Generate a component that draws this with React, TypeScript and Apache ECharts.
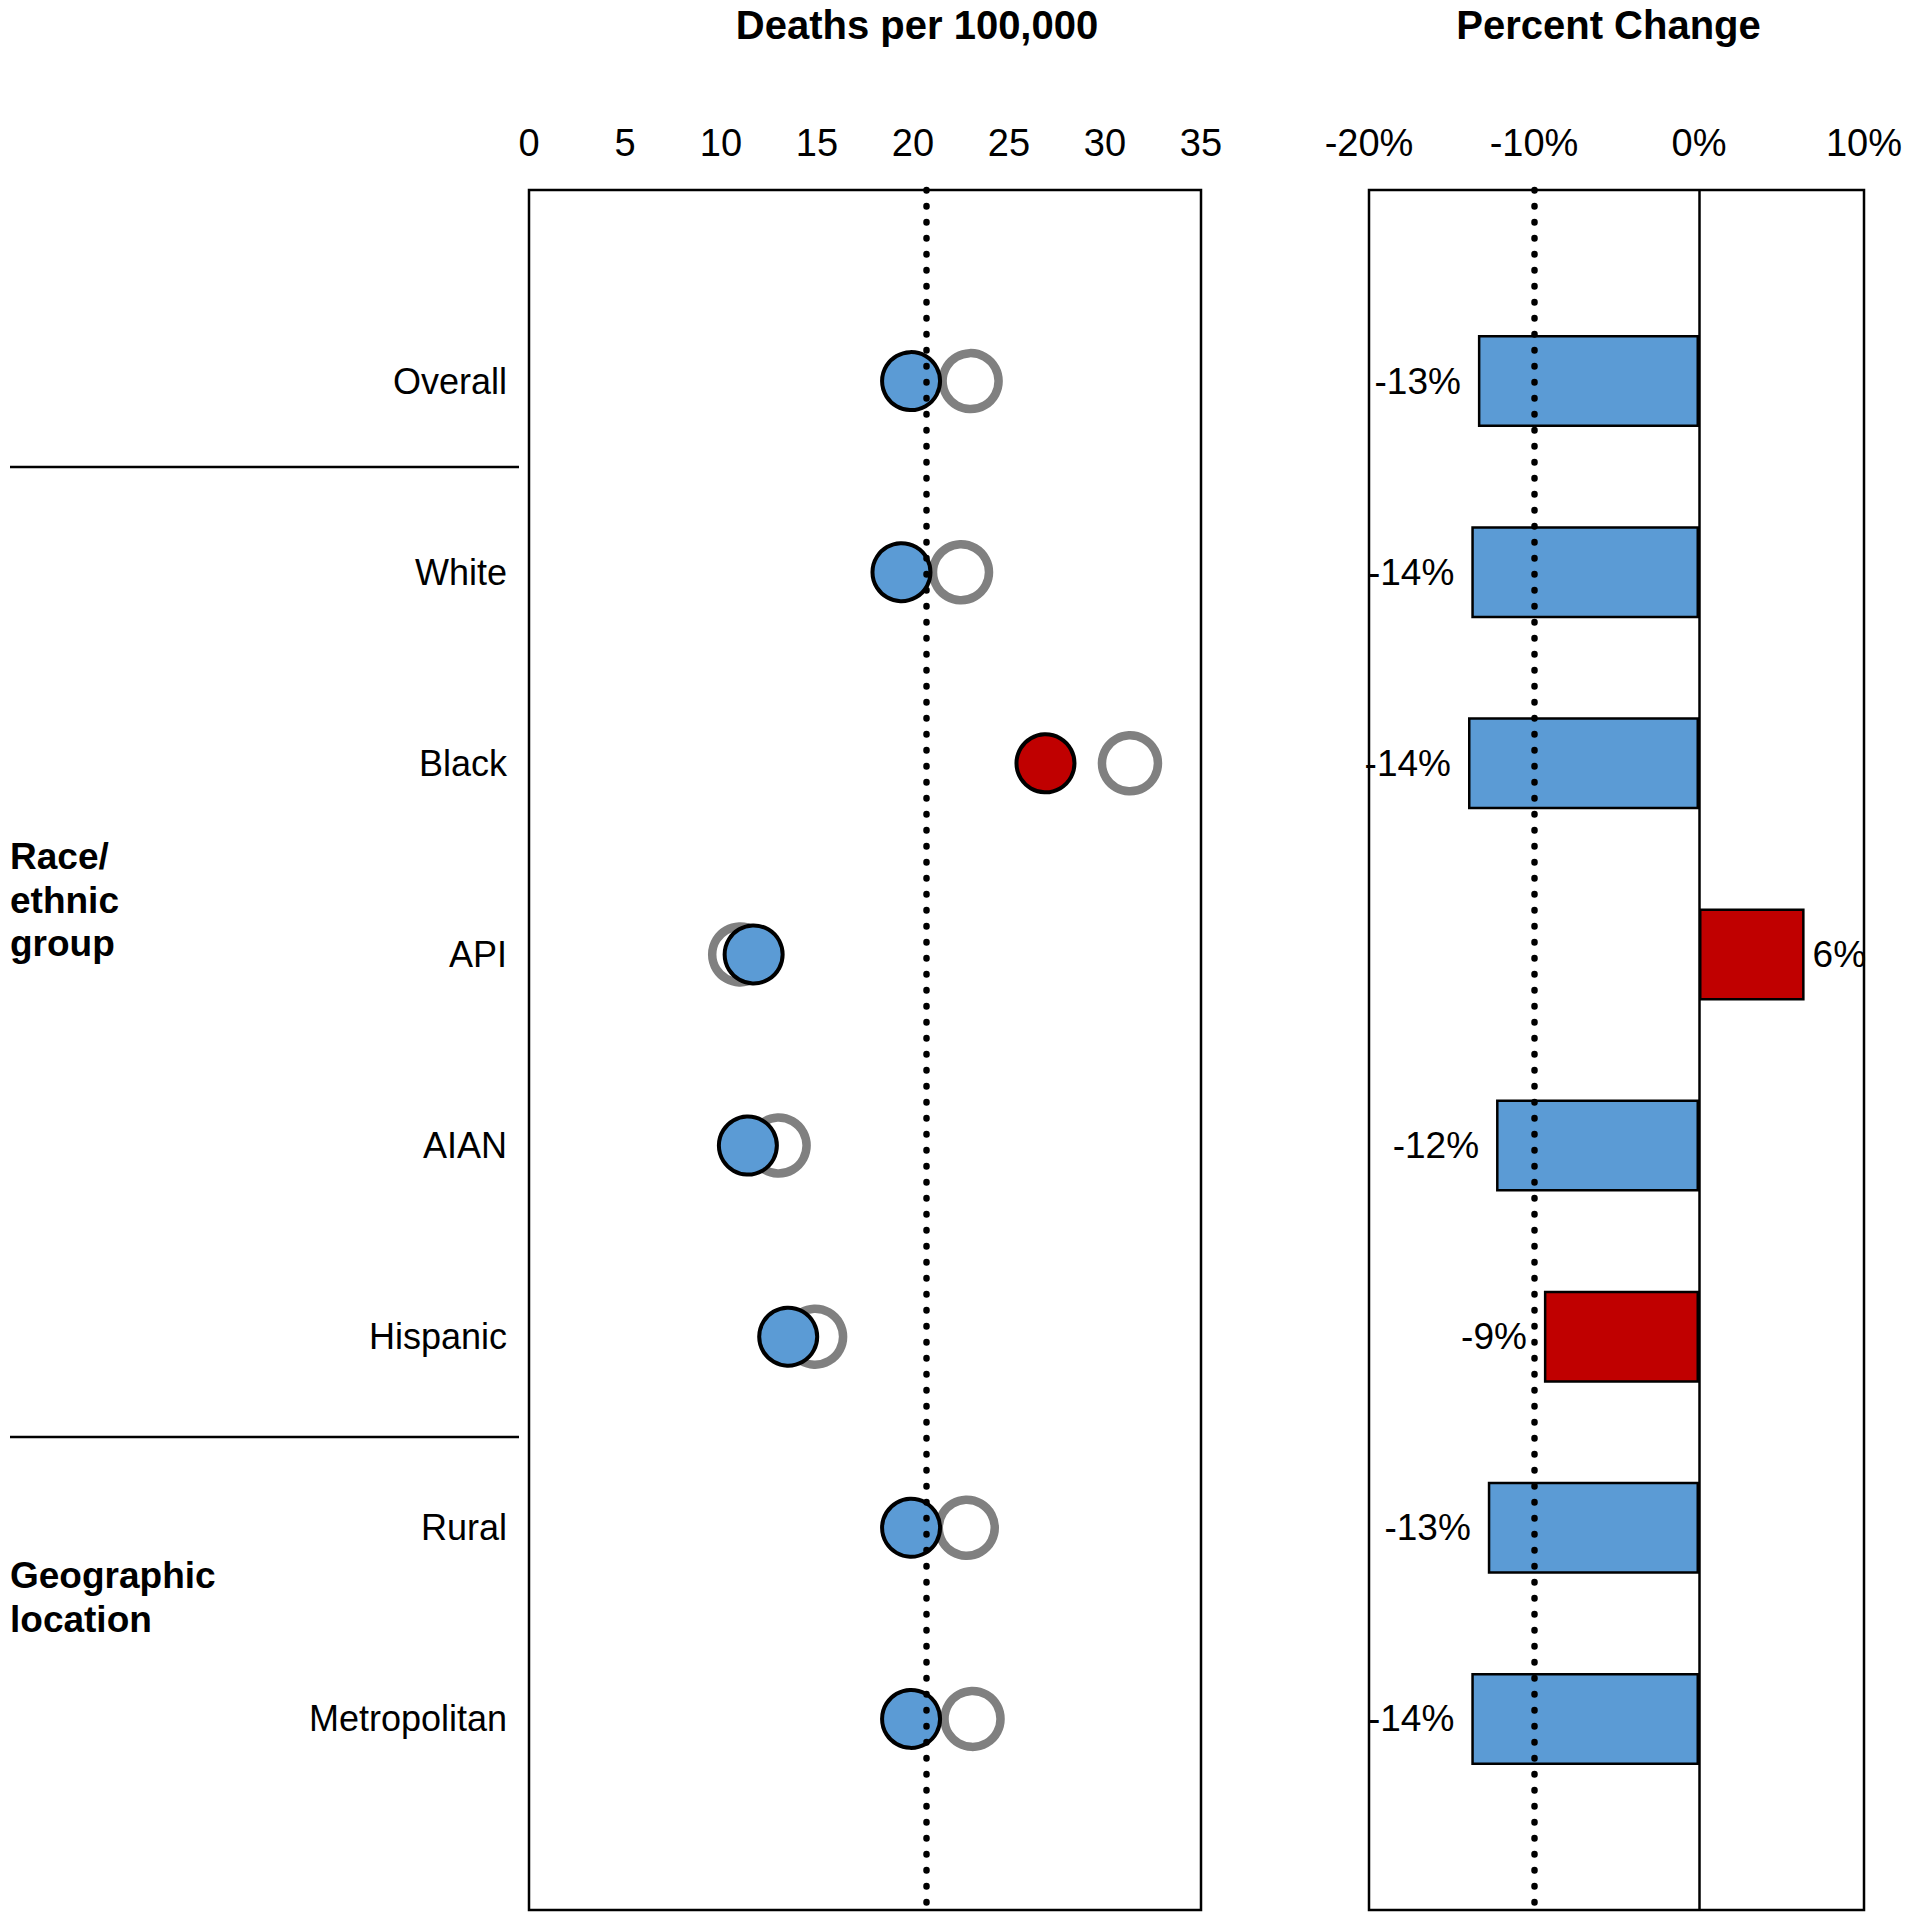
import React, { useEffect, useRef } from "react";
import * as echarts from "echarts";

// ---------- data ----------
const categories = ["Overall", "White", "Black", "API", "AIAN", "Hispanic", "Rural", "Metropolitan"];
const rateCurrent = [19.9, 19.4, 26.9, 11.7, 11.4, 13.5, 19.9, 19.9];
const ratePrior = [23.0, 22.5, 31.3, 11.0, 13.0, 14.9, 22.8, 23.1];
const percentChange = [-13.4, -13.8, -14.0, 6.4, -12.3, -9.4, -12.8, -13.8];
const rateFlagged = ["Black"];
const changeFlagged = ["API", "Hispanic"];
const rateReference = 20.7;
const changeReference = -10;
const rateTicks = [0, 35, 5];
const changeTicks = [-20, 10, 10];
const groupLabels = ["Race/\nethnic\ngroup", "Geographic\nlocation"];

const FONT = "'Liberation Sans', Arial, Helvetica, sans-serif";
const BLUE = "#5B9BD5";
const RED = "#C00000";
const GRAY = "#808080";

export default function App() {
  const ref = useRef<HTMLDivElement>(null);

  useEffect(() => {
    document.body.style.margin = "0";
    if (!ref.current) return;
    const chart = echarts.init(ref.current, null, { renderer: "svg" });

    const rows = ["", ...categories, ""];
    const idx = (i: number) => i + 1;

    const dotted = {
      color: "#000",
      width: 6.5,
      type: [0.5, 15.5],
      cap: "round",
    };

    const option: any = {
      animation: false,
      backgroundColor: "#fff",
      textStyle: { fontFamily: FONT, color: "#000" },
      grid: [
        { left: 529, top: 190, width: 672, height: 1720, show: true, borderColor: "#000", borderWidth: 2.5, backgroundColor: "transparent" },
        { left: 1369, top: 190, width: 495, height: 1720, show: true, borderColor: "#000", borderWidth: 2.5, backgroundColor: "transparent" },
      ],
      xAxis: [
        {
          gridIndex: 0,
          type: "value",
          position: "top",
          min: rateTicks[0],
          max: rateTicks[1],
          interval: rateTicks[2],
          name: "Deaths per 100,000",
          nameLocation: "middle",
          nameGap: 145,
          nameTextStyle: { fontFamily: FONT, fontSize: 40, fontWeight: "bold", color: "#000", padding: [0, 0, 0, 104] },
          axisLine: { show: false },
          axisTick: { show: false },
          splitLine: { show: false },
          axisLabel: { fontFamily: FONT, fontSize: 38, color: "#000", margin: 28 },
        },
        {
          gridIndex: 1,
          type: "value",
          position: "top",
          min: changeTicks[0],
          max: changeTicks[1],
          interval: changeTicks[2],
          name: "Percent Change",
          nameLocation: "middle",
          nameGap: 145,
          nameTextStyle: { fontFamily: FONT, fontSize: 40, fontWeight: "bold", color: "#000", padding: [0, 16, 0, 0] },
          axisLine: { show: false },
          axisTick: { show: false },
          splitLine: { show: false },
          axisLabel: { fontFamily: FONT, fontSize: 38, color: "#000", margin: 28, formatter: "{value}%" },
        },
      ],
      yAxis: [
        {
          gridIndex: 0,
          type: "category",
          data: rows,
          inverse: true,
          boundaryGap: false,
          axisLine: { show: false },
          axisTick: { show: false },
          splitLine: { show: false },
          axisLabel: { fontFamily: FONT, fontSize: 36, color: "#000", margin: 22, interval: 0 },
        },
        {
          gridIndex: 1,
          type: "category",
          data: rows,
          inverse: true,
          boundaryGap: false,
          axisLine: { show: false },
          axisTick: { show: false },
          splitLine: { show: false },
          axisLabel: { show: false },
        },
      ],
      series: [
        {
          name: "Prior",
          type: "scatter",
          xAxisIndex: 0,
          yAxisIndex: 0,
          z: 2,
          symbol: "circle",
          symbolSize: 56,
          itemStyle: { color: "#fff", borderColor: GRAY, borderWidth: 8.5, opacity: 1 },
          data: ratePrior.map((v, i) => [v, idx(i)]),
          markLine: {
            silent: true,
            symbol: ["none", "none"],
            label: { show: false },
            lineStyle: dotted,
            data: [{ xAxis: rateReference }],
          },
        },
        {
          name: "Current",
          type: "scatter",
          xAxisIndex: 0,
          yAxisIndex: 0,
          z: 3,
          symbol: "circle",
          symbolSize: 58,
          data: rateCurrent.map((v, i) => ({
            value: [v, idx(i)],
            itemStyle: {
              color: rateFlagged.includes(categories[i]) ? RED : BLUE,
              borderColor: "#000",
              borderWidth: 4,
              opacity: 1,
            },
          })),
        },
        {
          name: "Change",
          type: "bar",
          xAxisIndex: 1,
          yAxisIndex: 1,
          z: 2,
          barWidth: 92,
          data: [
            "-",
            ...percentChange.map((v, i) => ({
              value: v,
              itemStyle: {
                color: changeFlagged.includes(categories[i]) ? RED : BLUE,
                borderColor: "#000",
                borderWidth: 2.5,
              },
              label: {
                show: true,
                position: v < 0 ? "left" : "right",
                distance: v < 0 ? 17 : 8,
                formatter: `${Math.round(v)}%`,
                fontFamily: FONT,
                fontSize: 37,
                color: "#000",
              },
            })),
            "-",
          ],
        },
        {
          name: "Reference",
          type: "scatter",
          xAxisIndex: 1,
          yAxisIndex: 1,
          z: 10,
          data: [],
          markLine: {
            silent: true,
            symbol: ["none", "none"],
            label: { show: false },
            data: [
              { xAxis: changeReference, lineStyle: dotted },
              { xAxis: 0, lineStyle: { color: "#000", width: 2.5, type: "solid" } },
            ],
          },
        },
      ],
      graphic: [
        { type: "line", shape: { x1: 10, y1: 467, x2: 519, y2: 467 }, style: { stroke: "#000", lineWidth: 2.5 } },
        { type: "line", shape: { x1: 10, y1: 1437, x2: 519, y2: 1437 }, style: { stroke: "#000", lineWidth: 2.5 } },
        {
          type: "text",
          left: 10,
          top: 835,
          style: { text: groupLabels[0], font: `bold 37px ${FONT}`, fill: "#000", lineHeight: 43.5 },
        },
        {
          type: "text",
          left: 10,
          top: 1554,
          style: { text: groupLabels[1], font: `bold 37px ${FONT}`, fill: "#000", lineHeight: 43.5 },
        },
      ],
    };

    chart.setOption(option);
    return () => chart.dispose();
  }, []);

  return <div ref={ref} style={{ width: 1909, height: 1920 }} />;
}
